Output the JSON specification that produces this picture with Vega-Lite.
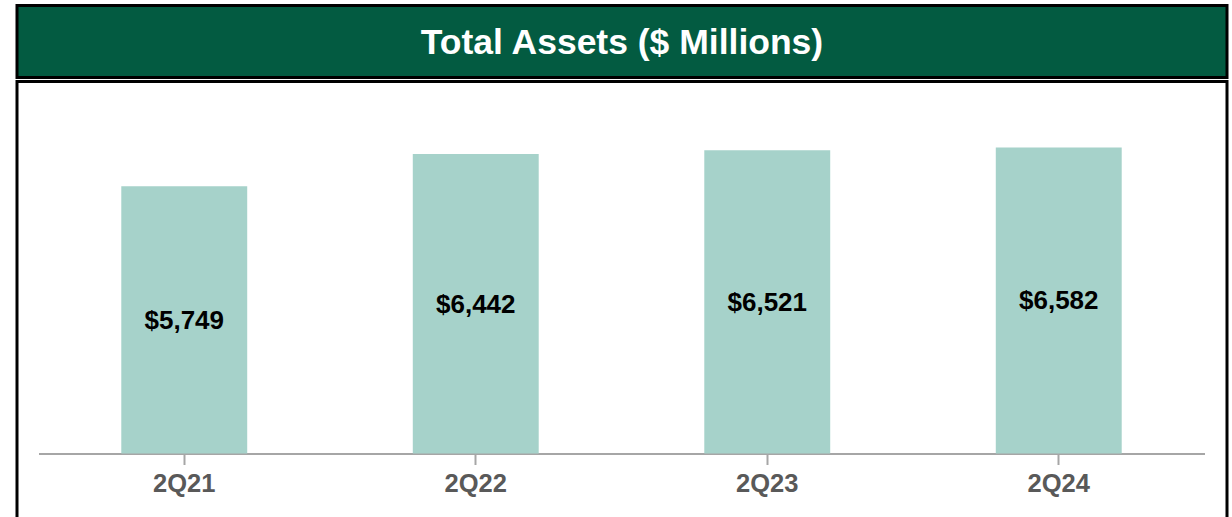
{
  "$schema": "https://vega.github.io/schema/vega-lite/v6.json",
  "padding": {"left": 15, "top": 3.5, "right": 0, "bottom": 0},
  "background": "white",
  "datasets": {
    "header": [{"label": "Total Assets ($ Millions)"}],
    "assets": [
      {"quarter": "2Q21", "value": 5749, "text": "$5,749"},
      {"quarter": "2Q22", "value": 6442, "text": "$6,442"},
      {"quarter": "2Q23", "value": 6521, "text": "$6,521"},
      {"quarter": "2Q24", "value": 6582, "text": "$6,582"}
    ]
  },
  "spacing": 0,
  "vconcat": [
    {
      "width": 1210,
      "height": 72,
      "view": {"fill": "#035b41", "stroke": "#000000", "strokeWidth": 3},
      "data": {"name": "header"},
      "mark": {"type": "text", "color": "white", "font": "Liberation Sans", "fontWeight": "bold", "fontSize": 35.5, "align": "center", "baseline": "middle", "dy": 1},
      "encoding": {"text": {"field": "label"}}
    },
    {
      "width": 1210,
      "height": 450,
      "view": {"fill": "white", "stroke": "#000000", "strokeWidth": 3},
      "data": {"name": "assets"},
      "layer": [
        {
          "mark": {"type": "bar", "color": "#a6d2ca"},
          "encoding": {
            "x": {
              "field": "quarter", "type": "nominal", "sort": null,
              "scale": {"range": [21.5, 1187.5], "paddingInner": 0.568, "paddingOuter": 0.284},
              "axis": {
                "title": null, "orient": "bottom", "offset": -78, "labelAngle": 0,
                "domainColor": "#a6a6a6", "domainWidth": 2,
                "tickColor": "#a6a6a6", "tickWidth": 2, "tickSize": 11,
                "labelFont": "Liberation Sans", "labelFontWeight": "bold", "labelFontSize": 25.5,
                "labelColor": "#595959", "labelPadding": 7
              }
            },
            "y": {
              "field": "value", "type": "quantitative",
              "scale": {"domain": [0, 8000], "range": [372, 0], "nice": false, "zero": true},
              "axis": null
            }
          }
        },
        {
          "mark": {"type": "text", "color": "#000000", "font": "Liberation Sans", "fontWeight": "bold", "fontSize": 26, "baseline": "middle", "dy": 1},
          "encoding": {
            "x": {"field": "quarter", "type": "nominal", "sort": null},
            "y": {
              "field": "value", "type": "quantitative",
              "scale": {"domain": [0, 16000], "range": [372, 0], "nice": false, "zero": true},
              "axis": null
            },
            "text": {"field": "text"}
          }
        }
      ],
      "resolve": {"scale": {"y": "independent"}}
    }
  ]
}
